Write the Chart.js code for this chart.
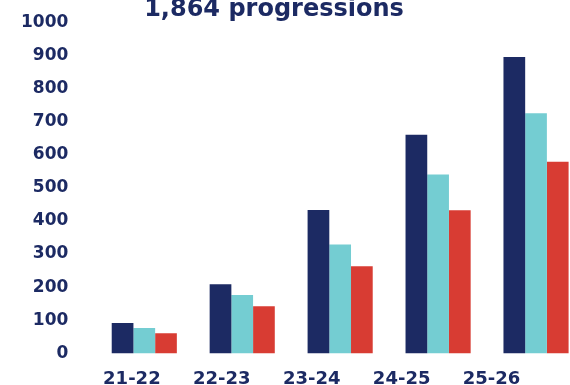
<!DOCTYPE html>
<html>
<head>
<meta charset="utf-8">
<script src="https://cdn.jsdelivr.net/npm/chart.js@4.4.0/dist/chart.umd.min.js"></script>
<style>
  html, body { margin: 0; padding: 0; overflow: hidden; background: #fff; width: 570px; height: 385px; }
  #wrap { position: absolute; left: -6px; top: -15px; }
</style>
</head>
<body>
<div id="wrap"><canvas id="myChart" width="596" height="420"></canvas></div>
<script>
// values
const years = ['21-22', '22-23', '23-24', '24-25', '25-26'];
const seriesNavy = [92, 209, 433, 660, 895];
const seriesTeal = [77, 176, 329, 540, 725];
const seriesRed = [61, 142, 263, 432, 579];
const yTicks = [0, 100, 200, 300, 400, 500, 600, 700, 800, 900, 1000];
const titleText = '1,864 progressions';

const navy = '#1c2a63';
const fontFam = "'DejaVu Sans', sans-serif";

// title sits a bit left of the canvas centre in the original, so draw it by hand
const titlePlugin = {
    id: 'titleText',
    afterDraw(chart) {
        const c = chart.ctx;
        c.save();
        c.font = 'bold 24px ' + fontFam;
        c.fillStyle = navy;
        c.textAlign = 'center';
        c.textBaseline = 'alphabetic';
        c.fillText(titleText, 280, 31);
        c.restore();
    }
};

const ctx = document.getElementById('myChart').getContext('2d');
const myChart = new Chart(ctx, {
    type: 'bar',
    data: {
        labels: years,
        datasets: [
            { label: 'Series 1', data: seriesNavy, backgroundColor: navy },
            { label: 'Series 2', data: seriesTeal, backgroundColor: '#74cdd2' },
            { label: 'Series 3', data: seriesRed, backgroundColor: '#d83c33' }
        ]
    },
    options: {
        responsive: false,
        animation: false,
        layout: { padding: { left: 0, right: 5, top: 35, bottom: 0 } },
        datasets: {
            bar: { categoryPercentage: 0.665, barPercentage: 1.0, borderWidth: 0 }
        },
        plugins: {
            legend: { display: false },
            tooltip: { enabled: false },
            title: { display: false }
        },
        scales: {
            x: {
                grid: { display: false, drawTicks: false },
                border: { display: false },
                ticks: { display: false }
            },
            // the year labels are spaced tighter than the bar groups in the original
            xLabels: {
                type: 'linear',
                position: 'bottom',
                offset: false,
                min: -0.4065,
                max: 5.039,
                afterBuildTicks: (axis) => { axis.ticks = years.map((y, i) => ({ value: i })); },
                grid: { display: false, drawTicks: false, offset: false },
                border: { display: false },
                ticks: {
                    color: navy,
                    padding: 15,
                    font: { family: fontFam, size: 18, weight: 'bold' },
                    callback: (v) => years[v]
                }
            },
            y: {
                min: 0,
                max: 1000,
                afterBuildTicks: (axis) => { axis.ticks = yTicks.map(v => ({ value: v })); },
                grid: { display: false, drawTicks: false },
                border: { display: false },
                ticks: {
                    color: navy,
                    padding: 27,
                    font: { family: fontFam, size: 17, weight: 'bold' },
                    callback: (v) => String(v)
                }
            }
        }
    },
    plugins: [titlePlugin]
});
</script>
</body>
</html>
